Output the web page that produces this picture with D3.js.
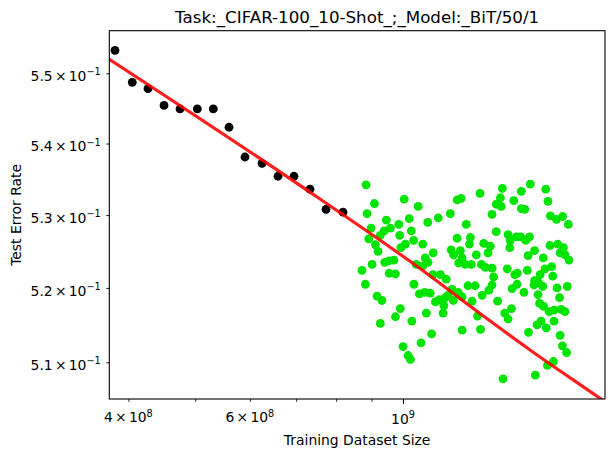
<!DOCTYPE html>
<html>
<head>
<meta charset="utf-8">
<script src="https://cdn.jsdelivr.net/npm/d3@7"></script>
<style>
  body { margin: 0; background: #fff; }
  svg { display: block; }
  text { font-family: "DejaVu Sans", sans-serif; fill: #000; }
</style>
</head>
<body>
<svg id="chart"></svg>
<script>
// observed points (black) and extrapolation points (green)
const blackX = [382.5e6, 405.2e6, 427.0e6, 450.5e6, 475.2e6, 503.4e6, 531.0e6, 559.6e6,
  590.2e6, 624.7e6, 658.9e6, 695.1e6, 733.2e6, 773.4e6, 818.5e6];
const blackY = [0.5533, 0.5487, 0.5478, 0.5454, 0.5449, 0.5449, 0.5449, 0.5423,
  0.5381, 0.5372, 0.5354, 0.5354, 0.5336, 0.5308, 0.5304];

const greenX = [
  884e6, 909e6, 1004e6, 1052e6, 1198e6, 1214e6, 1293e6, 887e6, 946e6, 1021e6,
  1086e6, 1125e6, 1171e6, 1235e6, 899e6, 986e6, 959e6, 939e6, 1028e6, 892e6,
  927e6, 989e6, 1036e6, 1068e6, 1008e6, 993e6, 1198e6, 1252e6, 1248e6, 912e6,
  920e6, 1106e6, 1174e6, 1211e6, 1184e6, 1218e6, 1277e6, 970e6, 954e6, 941e6,
  902e6, 1077e6, 1087e6, 1045e6, 1068e6, 1204e6, 1231e6, 1256e6, 872e6, 955e6,
  975e6, 1105e6, 1133e6, 1155e6, 882e6, 1037e6, 1242e6, 1272e6,
  1393e6, 1484e6, 1529e6, 1610e6, 1384e6, 1365e6, 1388e6, 1447e6, 1622e6, 1484e6,
  1501e6, 1346e6, 1635e6, 1669e6, 1703e6, 1736e6, 1365e6, 1420e6, 1460e6, 1481e6,
  1525e6, 1430e6, 1506e6, 1309e6, 1338e6, 1428e6, 1633e6, 1676e6, 1708e6, 1328e6,
  1551e6, 1518e6, 1689e6, 1717e6, 1740e6, 1597e6, 1299e6, 1316e6, 1416e6, 1346e6,
  1514e6, 1642e6, 1606e6, 1464e6, 1452e6, 1580e6, 1648e6, 1353e6, 1551e6, 1463e6,
  1346e6, 1572e6,
  1332e6, 1302e6, 1439e6, 1497e6, 1548e6, 1594e6, 1569e6, 1672e6, 1730e6, 1686e6,
  1371e6, 1436e6, 1404e6, 1420e6, 1577e6, 1598e6, 1628e6, 1655e6, 1694e6, 1717e6,
  1295e6, 1282e6, 1564e6, 1585e6, 1613e6, 1655e6, 1520e6, 1689e6, 1702e6, 1726e6,
  1652e6, 1619e6, 1396e6, 1555e6,
  917e6, 932e6, 1056e6, 1075e6, 1095e6, 1114e6, 1129e6, 1152e6, 1162e6, 1146e6,
  1143e6, 1178e6, 1202e6, 1218e6, 1259e6, 991e6, 975e6, 1081e6, 927e6, 1030e6,
  1100e6, 1062e6, 1000e6, 1017e6, 1025e6, 1218e6, 1183e6
];
const greenY = [
  0.5342, 0.5316, 0.5322, 0.5312, 0.5321, 0.5323, 0.5330, 0.5302, 0.5293, 0.5295,
  0.5290, 0.5296, 0.5302, 0.5287, 0.5282, 0.5287, 0.5282, 0.5278, 0.5278, 0.5267,
  0.5272, 0.5272, 0.5265, 0.5260, 0.5260, 0.5255, 0.5268, 0.5269, 0.5260, 0.5259,
  0.5250, 0.5248, 0.5252, 0.5251, 0.5245, 0.5241, 0.5245, 0.5238, 0.5237, 0.5235,
  0.5232, 0.5241, 0.5235, 0.5232, 0.5230, 0.5234, 0.5232, 0.5232, 0.5224, 0.5220,
  0.5219, 0.5218, 0.5218, 0.5212, 0.5205, 0.5205, 0.5203, 0.5203,
  0.5337, 0.5333, 0.5343, 0.5336, 0.5324, 0.5315, 0.5312, 0.5320, 0.5319, 0.5309,
  0.5308, 0.5301, 0.5299, 0.5294, 0.5298, 0.5287, 0.5277, 0.5273, 0.5270, 0.5270,
  0.5270, 0.5265, 0.5265, 0.5261, 0.5257, 0.5255, 0.5258, 0.5260, 0.5255, 0.5248,
  0.5251, 0.5244, 0.5248, 0.5245, 0.5238, 0.5241, 0.5232, 0.5228, 0.5226, 0.5227,
  0.5224, 0.5229, 0.5226, 0.5220, 0.5218, 0.5218, 0.5216, 0.5215, 0.5210, 0.5205,
  0.5204, 0.5207,
  0.5197, 0.5190, 0.5199, 0.5194, 0.5204, 0.5202, 0.5191, 0.5200, 0.5202, 0.5187,
  0.5182, 0.5172, 0.5166, 0.5158, 0.5179, 0.5175, 0.5168, 0.5170, 0.5171, 0.5168,
  0.5144, 0.5162, 0.5150, 0.5155, 0.5146, 0.5155, 0.5140, 0.5136, 0.5122, 0.5113,
  0.5101, 0.5096, 0.5078, 0.5083,
  0.5189, 0.5183, 0.5192, 0.5194, 0.5193, 0.5181, 0.5184, 0.5187, 0.5190, 0.5176,
  0.5166, 0.5198, 0.5194, 0.5188, 0.5182, 0.5172, 0.5161, 0.5166, 0.5152, 0.5155,
  0.5138, 0.5126, 0.5121, 0.5109, 0.5104, 0.5143, 0.5183
];

// fitted scaling curve
const fitX = [363.8e6, 758.1e6, 1058.4e6, 1284.4e6, 1527.7e6, 1929.7e6, 2008e6];
const fitY = [0.5529, 0.53223, 0.52265, 0.51674, 0.51164, 0.50522, 0.50413];

const xDomain = [3.753e8, 1.962e9];
const yDomain = [0.505128, 0.556156];

const xMinorTicks = [4e8, 5e8, 6e8, 7e8, 8e8, 9e8];
const xMajorTicks = [1e9];
const xLabelValues = [4e8, 6e8, 1e9];
const xLabelMant = ['4', '6', null];
const xLabelExp = ['8', '8', '9'];

const yTickValues = [0.51, 0.52, 0.53, 0.54, 0.55];
const yLabelMant = ['5.1', '5.2', '5.3', '5.4', '5.5'];
const yLabelExp = '\u22121';

const titleText = 'Task:_CIFAR-100_10-Shot_;_Model:_BiT/50/1';
const xTitle = 'Training Dataset Size';
const yTitle = 'Test Error Rate';

const width = 615, height = 457;
const margin = { top: 30.7, right: 10, bottom: 58, left: 109.3 };
const plotW = width - margin.left - margin.right;
const plotH = height - margin.top - margin.bottom;

const svg = d3.select('#chart').attr('width', width).attr('height', height);

const x = d3.scaleLog().domain(xDomain).range([margin.left, width - margin.right]);
const y = d3.scaleLog().domain(yDomain).range([height - margin.bottom, margin.top]);

svg.append('clipPath').attr('id', 'plot-clip')
  .append('rect')
  .attr('x', margin.left).attr('y', margin.top)
  .attr('width', plotW).attr('height', plotH);

const plot = svg.append('g').attr('clip-path', 'url(#plot-clip)');

plot.selectAll('circle.obs')
  .data(d3.zip(blackX, blackY))
  .join('circle')
  .attr('class', 'obs')
  .attr('cx', d => x(d[0]))
  .attr('cy', d => y(d[1]))
  .attr('r', 4.4)
  .attr('fill', '#000');

plot.selectAll('circle.ext')
  .data(d3.zip(greenX, greenY))
  .join('circle')
  .attr('class', 'ext')
  .attr('cx', d => x(d[0]))
  .attr('cy', d => y(d[1]))
  .attr('r', 4.4)
  .attr('fill', '#00e400');

const line = d3.line()
  .x(d => x(d[0]))
  .y(d => y(d[1]))
  .curve(d3.curveMonotoneX);

plot.append('path')
  .datum(d3.zip(fitX, fitY))
  .attr('d', line)
  .attr('fill', 'none')
  .attr('stroke', 'rgba(255,0,0,0.88)')
  .attr('stroke-width', 3.2);

// ticks
const bottomY = height - margin.bottom;

const gxMinor = svg.append('g')
  .attr('transform', `translate(0,${bottomY})`)
  .call(d3.axisBottom(x).tickValues(xMinorTicks).tickSize(2.8).tickFormat(''));
gxMinor.select('.domain').remove();
gxMinor.selectAll('line').attr('stroke-width', 0.85);

const gxMajor = svg.append('g')
  .attr('transform', `translate(0,${bottomY})`)
  .call(d3.axisBottom(x).tickValues(xMajorTicks).tickSize(4.9).tickFormat(''));
gxMajor.select('.domain').remove();
gxMajor.selectAll('line').attr('stroke-width', 1.1);

const gy = svg.append('g')
  .attr('transform', `translate(${margin.left},0)`)
  .call(d3.axisLeft(y).tickValues(yTickValues).tickSize(3).tickFormat(''));
gy.select('.domain').remove();
gy.selectAll('line').attr('stroke-width', 0.9);

// mathtext-like labels: 5.5 x 10^-1
function mathLabel(t, mant, exp) {
  if (mant) {
    t.append('tspan').text(mant);
    t.append('tspan').attr('dx', 2.2).text('\u00d7');
    t.append('tspan').attr('dx', 2.2).text('10');
  } else {
    t.append('tspan').text('10');
  }
  t.append('tspan').attr('dy', -5.6).attr('font-size', 9.7).text(exp);
}

xLabelValues.forEach((v, i) => {
  const t = svg.append('text')
    .attr('x', x(v))
    .attr('y', xLabelMant[i] ? bottomY + 23.3 : bottomY + 25)
    .attr('text-anchor', 'middle')
    .attr('font-size', 13.9);
  mathLabel(t, xLabelMant[i], xLabelExp[i]);
});

yTickValues.forEach((v, i) => {
  const t = svg.append('text')
    .attr('x', margin.left - 8.6)
    .attr('y', y(v) + 7.6)
    .attr('text-anchor', 'end')
    .attr('font-size', 13.9);
  mathLabel(t, yLabelMant[i], yLabelExp);
});

// frame
svg.append('rect')
  .attr('x', margin.left).attr('y', margin.top)
  .attr('width', plotW).attr('height', plotH)
  .attr('fill', 'none')
  .attr('stroke', '#000')
  .attr('stroke-width', 1.1);

// titles
svg.append('text')
  .attr('x', margin.left + plotW / 2)
  .attr('y', 23)
  .attr('text-anchor', 'middle')
  .attr('font-size', 16.7)
  .text(titleText);

svg.append('text')
  .attr('x', margin.left + plotW / 2)
  .attr('y', 444.5)
  .attr('text-anchor', 'middle')
  .attr('font-size', 13.9)
  .text(xTitle);

svg.append('text')
  .attr('transform', `translate(20.7,${margin.top + plotH / 2}) rotate(-90)`)
  .attr('text-anchor', 'middle')
  .attr('font-size', 13.9)
  .text(yTitle);
</script>
</body>
</html>
